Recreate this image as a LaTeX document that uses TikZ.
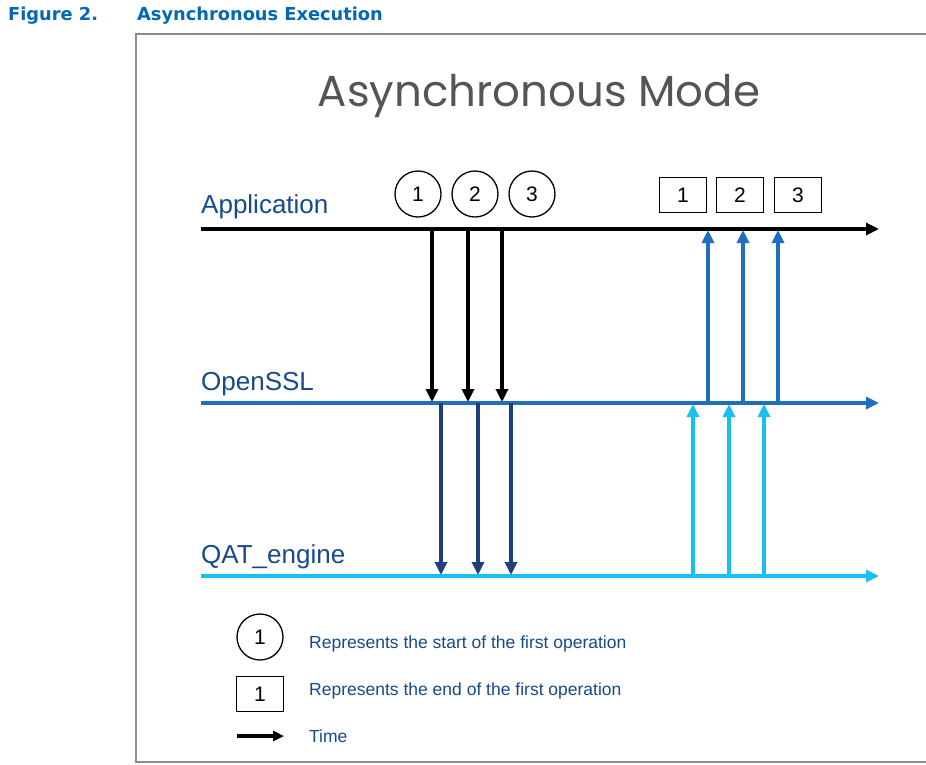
\documentclass[tikz,border=0pt]{standalone}
\usepackage{fontspec}
\setmainfont{Liberation Sans}
\newfontfamily\hdrfont{DejaVu Sans}
\newfontfamily\ttlfont{Poppins}
\usetikzlibrary{arrows.meta}
\definecolor{hdrblue}{HTML}{0068B5}
\definecolor{lblblue}{HTML}{174A8B}
\definecolor{titlegray}{HTML}{555555}
\definecolor{sslblue}{HTML}{1F6FC0}
\definecolor{qatcyan}{HTML}{18C0F2}
\definecolor{navy}{HTML}{1F3F7C}
\definecolor{framegray}{HTML}{8C8C8C}
\begin{document}
\begin{tikzpicture}[x=1pt,y=-1pt,
  tip/.style={-{Triangle[length=13pt,width=12pt]}},
  timeline/.style={line width=3.2pt,tip},
  vert/.style={line width=3.2pt,-{Triangle[length=13pt,width=12pt]}},
  lanelabel/.style={anchor=base west,inner sep=0pt,text=lblblue,font=\fontsize{26}{28}\selectfont},
  startmark/.style={circle,draw,line width=1.3pt,minimum size=46pt,inner sep=0pt,font=\fontsize{21}{23}\selectfont},
  endmark/.style={rectangle,draw,line width=1.3pt,minimum width=47pt,minimum height=35pt,inner sep=0pt,font=\fontsize{21}{23}\selectfont},
  legendtext/.style={anchor=base west,inner sep=0pt,text=lblblue,font=\fontsize{17.5}{20}\selectfont}
]
\useasboundingbox (0,0) rectangle (926,764);
\fill[white] (0,0) rectangle (926,764);
% header
\node[anchor=base west,inner sep=0pt,text=hdrblue,font=\hdrfont\bfseries\fontsize{17.8}{20}\selectfont] (fig) at (8,20) {Figure 2.};
\node[anchor=base west,inner sep=0pt,text=hdrblue,font=\hdrfont\bfseries\fontsize{17.8}{20}\selectfont] (figtitle) at (137,20) {Asynchronous Execution};
% frame
\draw[framegray,line width=2pt] (936,34) -- (136,34) -- (136,762) -- (936,762);
% title
\node[anchor=base,inner sep=0pt,text=titlegray,font=\ttlfont\fontsize{43.5}{48}\selectfont] (title) at (539,106) {Asynchronous Mode};
% lane labels
\node[lanelabel] (applbl) at (201,213) {Application};
\node[lanelabel] (ssllbl) at (201,390) {OpenSSL};
\node[lanelabel] (qatlbl) at (201,563) {QAT\_engine};
% lane coordinates
\coordinate (appS) at (201,229); \coordinate (appE) at (879,229);
\coordinate (sslS) at (201,403); \coordinate (sslE) at (879,403);
\coordinate (qatS) at (201,576); \coordinate (qatE) at (879,576);
\draw[timeline,black] (appS) -- (appE);
\draw[timeline,sslblue] (sslS) -- (sslE);
\draw[timeline,qatcyan] (qatS) -- (qatE);
% start markers
\node[startmark] (c1) at (418,194) {1};
\node[startmark] (c2) at (475,194) {2};
\node[startmark] (c3) at (532,194) {3};
% end markers
\node[endmark] (s1) at (683,195) {1};
\node[endmark] (s2) at (740,195) {2};
\node[endmark] (s3) at (798,195) {3};
% app -> openssl (black)
\foreach \i/\x in {1/432,2/468,3/502}{
  \coordinate (ad\i) at (\x,229); \coordinate (od\i) at (\x,402);
  \draw[vert,black] (ad\i) -- (od\i);
}
% openssl -> qat (navy)
\foreach \i/\x in {1/441,2/478,3/511}{
  \coordinate (os\i) at (\x,403); \coordinate (qs\i) at (\x,575);
  \draw[vert,navy] (os\i) -- (qs\i);
}
% openssl -> app (blue up)
\foreach \i/\x in {1/708,2/743,3/778}{
  \coordinate (ou\i) at (\x,403); \coordinate (au\i) at (\x,230);
  \draw[vert,sslblue] (ou\i) -- (au\i);
}
% qat -> openssl (cyan up)
\foreach \i/\x in {1/693,2/729,3/764}{
  \coordinate (qu\i) at (\x,576); \coordinate (su\i) at (\x,404);
  \draw[vert,qatcyan] (qu\i) -- (su\i);
}
% legend
\node[startmark] (lc) at (260,637) {1};
\node[legendtext] (lct) at (309,648) {Represents the start of the first operation};
\node[endmark] (ls) at (260,694) {1};
\node[legendtext] (lst) at (309,695) {Represents the end of the first operation};
\coordinate (ltS) at (237,736); \coordinate (ltE) at (284,736);
\draw[line width=3.2pt,-{Triangle[length=11pt,width=10pt]}] (ltS) -- (ltE);
\node[legendtext] (ltt) at (309,742) {Time};
\end{tikzpicture}
\end{document}
